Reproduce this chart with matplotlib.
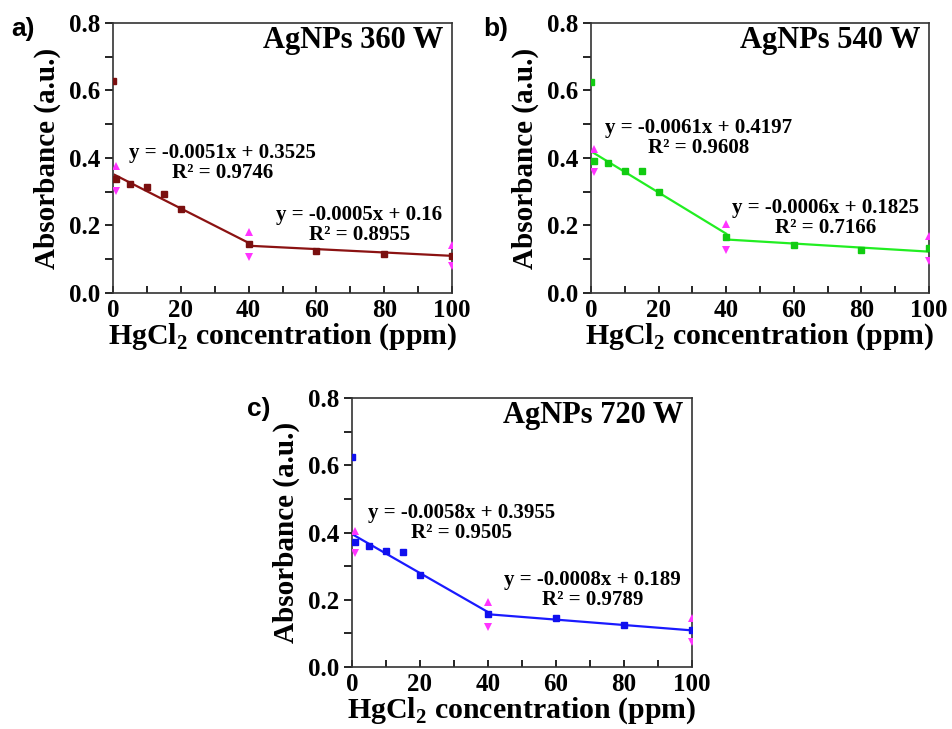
import numpy as np
import matplotlib
matplotlib.use('Agg')
import matplotlib.pyplot as plt
from matplotlib.ticker import MultipleLocator

plt.rcParams['font.family'] = 'Liberation Serif'
plt.rcParams['font.weight'] = 'bold'
plt.rcParams['mathtext.fontset'] = 'custom'
plt.rcParams['mathtext.rm'] = 'Liberation Serif:bold'
plt.rcParams['mathtext.bf'] = 'Liberation Serif:bold'

# HgCl2 concentration (ppm)
conc = [0, 1, 5, 10, 15, 20, 40, 60, 80, 100]
abs_360 = [0.629, 0.338, 0.322, 0.315, 0.293, 0.249, 0.144, 0.124, 0.115, 0.111]
abs_540 = [0.625, 0.392, 0.386, 0.360, 0.360, 0.298, 0.165, 0.142, 0.127, 0.132]
abs_720 = [0.626, 0.371, 0.361, 0.346, 0.342, 0.273, 0.157, 0.147, 0.125, 0.110]

# error bars (only at a few points)
err_idx = [1, 6, 9]
err_360 = [0.037, 0.038, 0.032]
err_540 = [0.035, 0.038, 0.036]
err_720 = [0.033, 0.037, 0.037]

# linear fits: (slope, intercept, R2) for 0-40 and 40-100 ppm
fit_360 = [(-0.0051, 0.3525, 0.9746), (-0.0005, 0.16, 0.8955)]
fit_540 = [(-0.0061, 0.4197, 0.9608), (-0.0006, 0.1825, 0.7166)]
fit_720 = [(-0.0058, 0.3955, 0.9505), (-0.0008, 0.189, 0.9789)]
fit_ranges = [(0.5, 40), (40, 100)]

panels = [
    dict(vals=abs_360, err=err_360, fits=fit_360, title='AgNPs 360 W', tag='a)',
         line='#8b1212', mk='#7a0f0f',
         rect=[0.1187, 0.5981, 0.3561, 0.3704], tagpos=(0.012, 0.976),
         eqpos=[(32.2, 0.385), (72.7, 0.2015)], fmt=['{:.4f}', '{:.2f}']),
    dict(vals=abs_540, err=err_540, fits=fit_540, title='AgNPs 540 W', tag='b)',
         line='#22ee22', mk='#11cc11',
         rect=[0.6208, 0.5981, 0.3550, 0.3704], tagpos=(0.508, 0.976),
         eqpos=[(31.7, 0.459), (69.5, 0.222)], fmt=['{:.4f}', '{:.4f}']),
    dict(vals=abs_720, err=err_720, fits=fit_720, title='AgNPs 720 W', tag='c)',
         line='#1a1aff', mk='#1010ee',
         rect=[0.3697, 0.0850, 0.3571, 0.3690], tagpos=(0.259, 0.455),
         eqpos=[(32.2, 0.427), (70.7, 0.228)], fmt=['{:.4f}', '{:.3f}']),
]

fig = plt.figure(figsize=(9.52, 7.29), dpi=100)

for p in panels:
    ax = fig.add_axes(p['rect'])
    ax.plot(conc, p['vals'], 's', color=p['mk'], ms=5, zorder=3)

    for (m, b, r2), (x0, x1), (ex, ey), f in zip(p['fits'], fit_ranges, p['eqpos'], p['fmt']):
        xs = np.array([x0, x1])
        ax.plot(xs, m * xs + b, '-', color=p['line'], lw=1.6, zorder=2)
        ax.text(ex, ey, 'y = {:.4f}x + {}\nR² = {:.4f}'.format(m, f.format(b), r2),
                ha='center', va='center', multialignment='center',
                fontsize=15, fontweight='bold', linespacing=1.0)

    ex_x = [conc[i] for i in err_idx]
    ex_y = [p['vals'][i] for i in err_idx]
    ax.plot(ex_x, np.array(ex_y) + np.array(p['err']), '^', color='#ff33ff', ms=6, mew=0, zorder=4)
    ax.plot(ex_x, np.array(ex_y) - np.array(p['err']), 'v', color='#ff33ff', ms=6, mew=0, zorder=4)

    ax.set_xlim(0, 100)
    ax.set_ylim(0, 0.8)
    ax.xaxis.set_major_locator(MultipleLocator(20))
    ax.xaxis.set_minor_locator(MultipleLocator(10))
    ax.yaxis.set_major_locator(MultipleLocator(0.2))
    ax.yaxis.set_minor_locator(MultipleLocator(0.1))
    ax.yaxis.set_major_formatter(matplotlib.ticker.FormatStrFormatter('%.1f'))
    ax.tick_params(axis='x', which='both', direction='in', length=5, width=1.2, pad=4, labelsize=18)
    ax.tick_params(axis='y', which='both', direction='out', length=6, width=1.2, pad=3, labelsize=18)
    for s in ax.spines.values():
        s.set_linewidth(1.2)
        s.set_color('#333333')

    ax.set_xlabel(r'HgCl$_\mathbf{2}$ concentration (ppm)', fontsize=21.5, fontweight='bold', labelpad=0)
    ax.set_ylabel('Absorbance (a.u.)', fontsize=21, fontweight='bold', labelpad=6)

    ax.text(0.975, 0.935, p['title'], transform=ax.transAxes, ha='right', va='center',
            fontsize=22, fontweight='bold')
    fig.text(p['tagpos'][0], p['tagpos'][1], p['tag'], ha='left', va='top',
             fontsize=19, fontweight='bold', family='Liberation Sans')

fig.savefig('out.png', dpi=100)
